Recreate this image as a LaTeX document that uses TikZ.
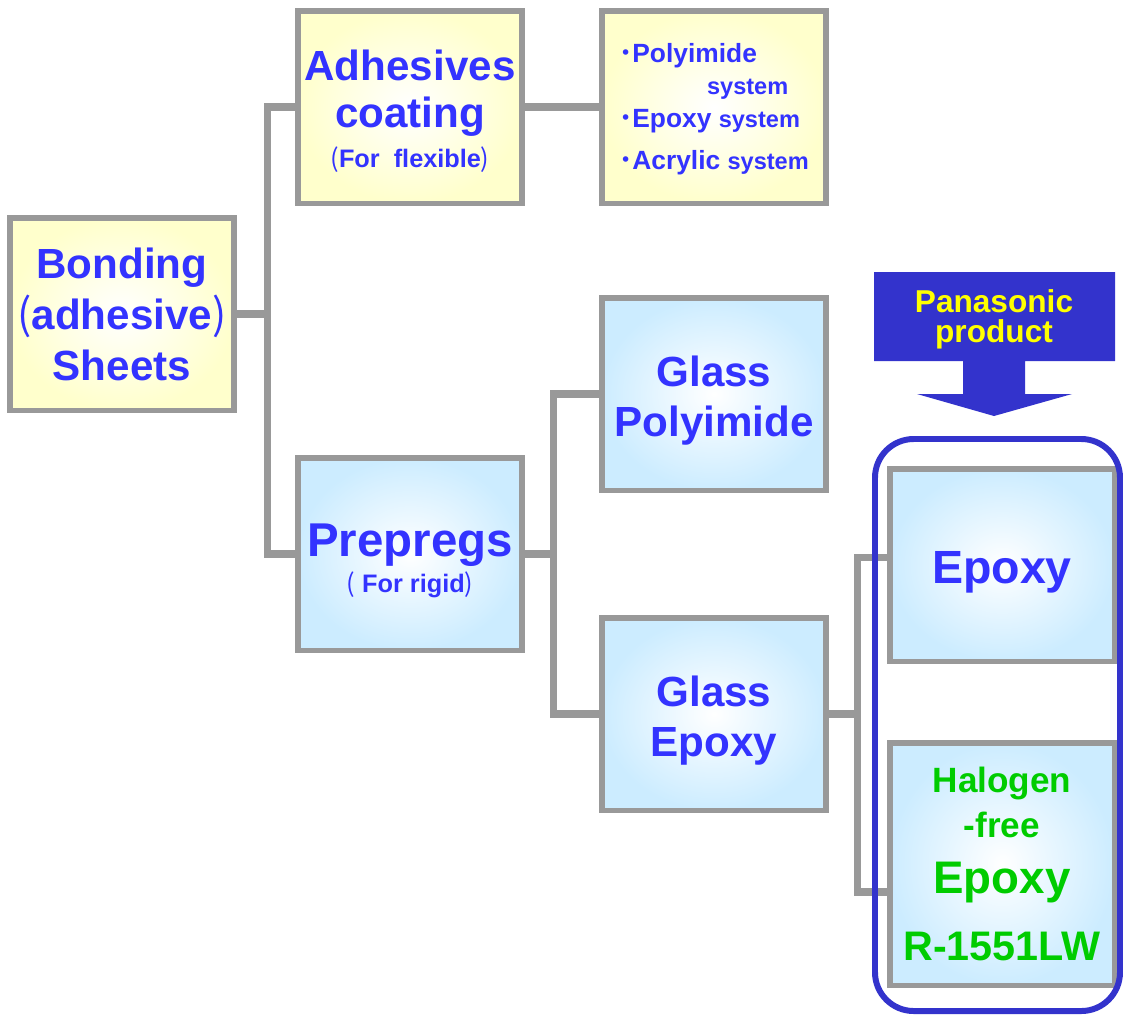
\documentclass[tikz,border=0pt]{standalone}
\usepackage{fontspec}
\setmainfont{Liberation Sans}
\newfontfamily\cjk{Noto Sans CJK JP}

\definecolor{linegray}{RGB}{153,153,153}
\definecolor{txtblue}{RGB}{51,51,255}
\definecolor{panblue}{RGB}{51,51,204}
\definecolor{creamfill}{RGB}{255,255,204}
\definecolor{skyfill}{RGB}{204,236,255}
\definecolor{halgreen}{RGB}{0,204,0}
\definecolor{panyellow}{RGB}{255,255,0}

\begin{document}
\begin{tikzpicture}[x=0.02cm, y=-0.02cm]
\tikzset{ box/.style={draw=linegray, line width=3.4pt, minimum width=4.5cm, minimum height=3.86cm,
            inner sep=0pt, align=center, text=txtblue},
          cream/.style={box, inner color=white, outer color=creamfill},
          sky/.style={box, inner color=white, outer color=skyfill},
          link/.style={linegray, line width=4.2pt},
}

\useasboundingbox (0,0) rectangle (1123,1019);

% boxes
\node [cream, font=\bfseries\fontsize{24}{29}\selectfont] (bonding) at (122,314)
  {Bonding\\{\cjk\mdseries (}adhesive{\cjk\mdseries )}\\Sheets};
\node [cream, font=\bfseries\fontsize{24}{26.7}\selectfont] (adhesive) at (410,107)
  {\rule{0pt}{21.8pt}Adhesives\\coating\\[-4pt]{\fontsize{14.4}{17}\selectfont{\cjk\mdseries (}For\ \ flexible{\cjk\mdseries )}}};
\node [cream, align=left, font=\bfseries\fontsize{15}{18.5}\selectfont] (syslist) at (714,107)
  {\rule{0pt}{13pt}{\cjk ･}Polyimide\\\hspace*{50pt}{\fontsize{13.4}{16}\selectfont system}\\
   {\cjk ･}Epoxy {\fontsize{13.4}{16}\selectfont system}\\[5.4pt]
   {\cjk ･}Acrylic {\fontsize{13.4}{16}\selectfont system}};

\node [sky, font=\bfseries\fontsize{27}{20.5}\selectfont] (prepreg) at (410,554)
  {\rule{0pt}{26.3pt}Prepregs\\{\fontsize{14.4}{17}\selectfont{\cjk\mdseries (}\ For rigid{\cjk\mdseries )}}};
\node [sky, font=\bfseries\fontsize{24}{28.5}\selectfont] (glasspi) at (714,394)
  {\rule{0pt}{24.5pt}Glass\\Polyimide};
\node [sky, font=\bfseries\fontsize{24}{28.5}\selectfont] (glassep) at (714,714)
  {\rule{0pt}{24.5pt}Glass\\Epoxy};
\node [sky, font=\bfseries\fontsize{26.5}{30}\selectfont] (epoxy) at (1002,565)
  {\rule{0pt}{26pt}Epoxy};
\node [sky, minimum height=4.86cm, text=halgreen, font=\bfseries\fontsize{20}{25.6}\selectfont] (halogen) at (1002,864)
  {Halogen\\-free\\[6.3pt]{\fontsize{26}{30}\selectfont Epoxy}\\[12.5pt]{\fontsize{23.5}{28}\selectfont R-1551LW}};

% connectors
\draw [link] (bonding.east) -- ++(30,0) |- (adhesive.west);
\draw [link] (bonding.east) -- ++(30,0) |- (prepreg.west);
\draw [link] (adhesive.east) -- (syslist.west);
\draw [link] (prepreg.east) -- ++(28,0) |- (glasspi.west);
\draw [link] (prepreg.east) -- ++(28,0) |- (glassep.west);
\draw [link] (glassep.east) -- ++(28,0) |- ([yshift=4.3pt]epoxy.west);
\draw [link] (glassep.east) -- ++(28,0) |- ([yshift=-15.9pt]halogen.west);

% Panasonic frame and arrow
\draw [panblue, line width=3.4pt, rounded corners=22pt] (875,439) rectangle (1120,1011);
\fill [panblue] (874,272) -- (1115,272) -- (1115,361) -- (1025,361) -- (1025,394) -- (1072,394)
  -- (994,416) -- (917,394) -- (963,394) -- (963,361) -- (874,361) -- cycle;
\node [text=panyellow, align=center, font=\bfseries\fontsize{18}{17}\selectfont] (panlabel) at (994,319)
  {Panasonic\\product};
\end{tikzpicture}
\end{document}
